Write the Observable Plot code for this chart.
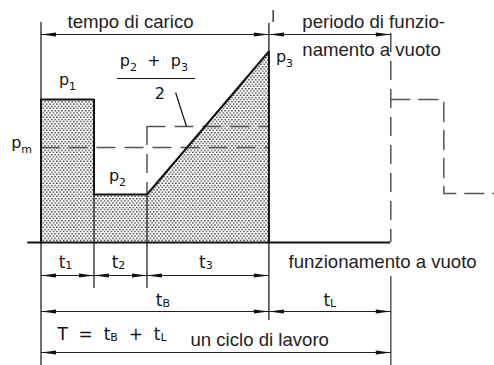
<!DOCTYPE html>
<html><head><meta charset="utf-8">
<script src="https://cdn.jsdelivr.net/npm/d3@7"></script>
<script src="https://cdn.jsdelivr.net/npm/@observablehq/plot@0.6"></script>
<style>body{margin:0;background:#fff} svg text{white-space:pre}</style>
</head><body><div id="chart"></div>
<script>
// ---------- data (time in units of t1, power in arbitrary units) ----------
const loadTimes   = [0, 1, 1, 2, 4.3];          // load profile break points
const loadPowers  = [14.3, 14.3, 4.8, 4.8, 19.1]; // p1, p1, p2, p2, p3
const phaseNames  = ["t_1", "t_2", "t_3"];
const phaseStarts = [0, 1, 2];
const phaseEnds   = [1, 2, 4.3];
const cycleNames  = ["t_B", "t_L"];
const cycleStarts = [0, 4.3];
const cycleEnds   = [4.3, 6.6];
const p1 = 14.3, p2 = 4.8, p3 = 19.1;
const pm = 9.5;          // mean power
const pMid23 = 11.6;     // (p2 + p3) / 2
const nextTimes  = [6.6, 7.6, 7.6, 8.6];       // start of next cycle
const nextPowers = [14.3, 14.3, 4.9, 4.9];
const texts = {
  load: "tempo di carico",
  idle1: "periodo di funzio-",
  idle2: "namento a vuoto",
  idle: "funzionamento a vuoto",
  cycle: "un ciclo di lavoro",
  formula: "T  =  t_B  +  t_L",
  frac: "p_2  +  p_3"
};

const tB = cycleEnds[0], T = cycleEnds[1];
const profile = loadTimes.map((t, i) => ({t, p: loadPowers[i]}));
const outline = [{t: 0, p: 0}, ...profile, {t: tB, p: 0}];
const nextCycle = nextTimes.map((t, i) => ({t, p: nextPowers[i]}));
const phases = phaseNames.map((n, i) => ({n, a: phaseStarts[i], b: phaseEnds[i]}));
const cycles = cycleNames.map((n, i) => ({n, a: cycleStarts[i], b: cycleEnds[i]}));

// dimension line levels (layout)
const yTop = 20.8, yPh = -3.3, yCy = -6.9, yT = -11.0, yBottom = -12.4;

const SANS = "Liberation Sans, Arial, sans-serif";
const TECH = "DejaVu Sans, sans-serif";
const dash = "19,9";
const gray = "#555";

const sans = (s, x, y) => Plot.text([s], {x: () => x, y: () => y, text: d => d,
  textAnchor: "start", lineAnchor: "bottom", fontFamily: SANS, fontSize: 18.6, fill: "#222"});

const chart = Plot.plot({
  width: 494, height: 365,
  marginTop: 0, marginRight: 0, marginBottom: 0, marginLeft: 0,
  x: {domain: [0, 1], range: [40.5, 93.5], axis: null},
  y: {domain: [0, 10], range: [242, 142], axis: null},
  style: {background: "#fff", fontFamily: SANS},
  marks: [
    // stippled load area
    Plot.area(profile, {x1: "t", y1: () => 0, y2: "p", fill: "url(#stipple)", curve: "linear"}),
    // dashed helper lines
    Plot.ruleY([pm], {x1: 0, x2: tB, stroke: gray, strokeWidth: 1.5, strokeDasharray: dash}),
    Plot.ruleY([pMid23], {x1: phaseStarts[2], x2: tB, stroke: gray, strokeWidth: 1.5, strokeDasharray: dash}),
    Plot.ruleX([phaseStarts[2]], {y1: pMid23, y2: p2, stroke: gray, strokeWidth: 1.5, strokeDasharray: dash}),
    Plot.ruleX([T], {y1: 20.9, y2: 0, stroke: gray, strokeWidth: 1.5, strokeDasharray: dash}),
    Plot.line(nextCycle, {x: "t", y: "p", stroke: gray, strokeWidth: 1.5, strokeDasharray: dash}),
    Plot.ruleX([T], {y1: -3.4, y2: yBottom, stroke: gray, strokeWidth: 1.5}),
    // extension lines
    Plot.ruleX([0], {y1: 22, y2: yBottom, stroke: "#111", strokeWidth: 1.2}),
    Plot.ruleX([phaseEnds[0], phaseEnds[1]], {y1: p2, y2: -4.6, stroke: "#111", strokeWidth: 1.2}),
    Plot.ruleX([tB], {y1: 21.9, y2: -7.8, stroke: "#111", strokeWidth: 1.2}),
    Plot.ruleX([tB + 0.08], {y1: 23.2, y2: 22.0, stroke: "#111", strokeWidth: 1.2}),
    // baseline + load outline
    Plot.ruleY([0], {x1: -0.25, x2: T, stroke: "#111", strokeWidth: 2}),
    Plot.line(outline, {x: "t", y: "p", stroke: "#111", strokeWidth: 2}),
    // dimension arrows
    Plot.link([[0, tB], [tB, T]], {x1: d => d[0], x2: d => d[1], y1: () => yTop, y2: () => yTop,
      stroke: "#222", strokeWidth: 1.2, ariaDescription: "dims"}),
    Plot.link(phases, {x1: "a", x2: "b", y1: () => yPh, y2: () => yPh, stroke: "#222", strokeWidth: 1.2, ariaDescription: "dims"}),
    Plot.link(cycles, {x1: "a", x2: "b", y1: () => yCy, y2: () => yCy, stroke: "#222", strokeWidth: 1.2, ariaDescription: "dims"}),
    Plot.link([[0, T]], {x1: d => d[0], x2: d => d[1], y1: () => yT, y2: () => yT, stroke: "#222", strokeWidth: 1.2, ariaDescription: "dims"}),
    // fraction bar + leader
    Plot.ruleY([16.4], {x1: 1.445, x2: 2.915, stroke: "#111", strokeWidth: 1.2}),
    Plot.link([[2.54, 15.0, 2.745, pMid23]], {x1: d => d[0], y1: d => d[1], x2: d => d[2], y2: d => d[3], stroke: "#111", strokeWidth: 1.2}),
    // sans texts
    sans(texts.load, 0.5, 21.5),
    sans(texts.idle1, 4.93, 21.5),
    sans(texts.idle2, 4.93, 18.7),
    sans(texts.idle, 4.67, -2.5),
    sans(texts.cycle, 2.82, -10.3),
    // technical labels with subscripts
    Plot.text(["p_1"], {x: () => (phaseStarts[0] + phaseEnds[0]) / 2, y: () => p1, dy: -15, text: d => d,
      textAnchor: "middle", lineAnchor: "bottom", fontFamily: TECH, fontSize: 16, fill: "#111", ariaDescription: "psub"}),
    Plot.text(["p_2"], {x: () => (phaseStarts[1] + phaseEnds[1]) / 2, y: () => p2, dx: -3, dy: -14, text: d => d,
      textAnchor: "middle", lineAnchor: "bottom", fontFamily: TECH, fontSize: 16, fill: "#111", ariaDescription: "psub"}),
    Plot.text(["p_3"], {x: () => tB, y: () => p3, dx: 7, dy: 10, text: d => d,
      textAnchor: "start", lineAnchor: "bottom", fontFamily: TECH, fontSize: 16, fill: "#111", ariaDescription: "psub"}),
    Plot.text(["p_m"], {x: () => 0, y: () => pm, dx: -9, text: d => d,
      textAnchor: "end", lineAnchor: "bottom", fontFamily: TECH, fontSize: 16, fill: "#111", ariaDescription: "psub"}),
    Plot.text([texts.frac], {x: () => 2.13, y: () => 17.7, text: d => d,
      textAnchor: "middle", lineAnchor: "bottom", fontFamily: TECH, fontSize: 16, fill: "#111", ariaDescription: "psub"}),
    Plot.text(["2"], {x: () => 2.24, y: () => 14.4, text: d => d,
      textAnchor: "middle", lineAnchor: "bottom", fontFamily: TECH, fontSize: 16, fill: "#111"}),
    Plot.text(phases, {x: d => (d.a + d.b) / 2, y: () => -2.5, dx: -2, text: "n",
      textAnchor: "middle", lineAnchor: "bottom", fontFamily: TECH, fontSize: 17, fill: "#111", ariaDescription: "tsub"}),
    Plot.text(cycles, {x: (d, i) => i === 0 ? 2.3 : (d.a + d.b) / 2, y: () => -6.3, text: "n",
      textAnchor: "middle", lineAnchor: "bottom", fontFamily: TECH, fontSize: 17, fill: "#111", ariaDescription: "tsub"}),
    Plot.text([texts.formula], {x: () => 0.31, y: () => -9.7, text: d => d,
      textAnchor: "start", lineAnchor: "bottom", fontFamily: TECH, fontSize: 17, fill: "#111", ariaDescription: "tsub"})
  ]
});

document.getElementById("chart").appendChild(chart);

// ---------- post-processing: pattern, arrowheads, subscripts ----------
const svg = d3.select(chart);
const defs = svg.insert("defs", ":first-child");
const pat = defs.append("pattern").attr("id", "stipple").attr("patternUnits", "userSpaceOnUse")
  .attr("width", 3.4).attr("height", 4.4);
pat.append("rect").attr("width", 3.4).attr("height", 4.4).attr("fill", "#fff");
pat.append("rect").attr("x", 0).attr("y", 0).attr("width", 1.5).attr("height", 1.3).attr("fill", "#333");
pat.append("rect").attr("x", 1.7).attr("y", 2.2).attr("width", 1.5).attr("height", 1.3).attr("fill", "#333");
const mk = defs.append("marker").attr("id", "ah").attr("markerUnits", "userSpaceOnUse")
  .attr("viewBox", "-16 -5 20 10").attr("markerWidth", 20).attr("markerHeight", 10)
  .attr("refX", 0).attr("refY", 0).attr("orient", "auto-start-reverse").attr("overflow", "visible");
mk.append("path").attr("d", "M0,0L-15,-1.9L-15,1.9Z").attr("fill", "#111");

const byDesc = name => svg.selectAll("g").filter(function () { return this.getAttribute("aria-description") === name; });
byDesc("dims").selectAll("path").attr("marker-start", "url(#ah)").attr("marker-end", "url(#ah)");

function subify(sel, shift, subSize) {
  sel.each(function () {
    const el = d3.select(this);
    const s = el.text();
    if (!s.includes("_")) return;
    const parts = s.split(/_(\w)/);
    el.text(null);
    let lowered = false;
    parts.forEach((part, i) => {
      if (i % 2 === 0) {
        if (!part) return;
        el.append("tspan").attr("dy", lowered ? -shift : 0).text(part);
        lowered = false;
      } else {
        el.append("tspan").attr("dy", lowered ? 0 : shift).attr("font-size", subSize).text(part);
        lowered = true;
      }
    });
  });
}
subify(byDesc("psub").selectAll("text"), 5, 11);
subify(byDesc("tsub").selectAll("text"), 1.5, 11);
</script>
</body></html>
